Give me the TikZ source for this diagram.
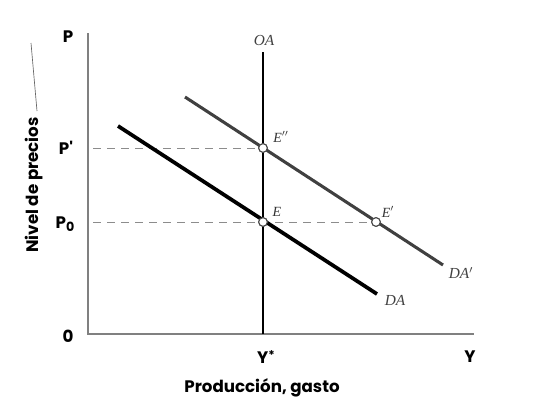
\documentclass[tikz,border=0pt]{standalone}
\usepackage{fontspec}
\setmainfont{Liberation Serif}
\newfontfamily\lblfont{Poppins}
\begin{document}
\begin{tikzpicture}[x=0.75pt,y=-0.75pt,
  axis/.style={draw=black!50,line width=1.1pt},
  oaline/.style={draw=black,line width=2.2pt},
  daline/.style={draw=black,line width=2.8pt},
  dapline/.style={draw=black!75,line width=2.3pt},
  guide/.style={draw=black!45,line width=0.7pt,dash pattern=on 6pt off 4.5pt},
  eqpt/.style={circle,draw=black!70,fill=white,line width=0.8pt,inner sep=0pt,minimum size=6.5pt},
  axlbl/.style={font=\lblfont\bfseries\fontsize{12.5}{14}\selectfont,inner sep=0pt},
  curvelbl/.style={font=\itshape\fontsize{11.5}{13}\selectfont,text=black!75,inner sep=0pt},
  ptlbl/.style={font=\itshape\fontsize{10.5}{12}\selectfont,text=black!80,inner sep=0pt}]
\useasboundingbox (0,0) rectangle (557,407);
% axes
\coordinate (origin) at (88,334);
\coordinate (ytop) at (88,33);
\coordinate (xend) at (474,334);
\draw[axis] (ytop) -- (origin) -- (xend);
% guide lines
\coordinate (pp0) at (93,148);
\coordinate (p00) at (93,222);
\node[eqpt] (Epp) at (263,148) {};
\node[eqpt] (E) at (263,222) {};
\node[eqpt] (Ep) at (376,222) {};
\draw[guide] (pp0) -- (Epp);
\draw[guide] (p00) -- (Ep);
% OA
\coordinate (oatop) at (263,52);
\coordinate (oabot) at (263,334);
\draw[oaline] (oatop) -- (oabot);
% DA and DA'
\coordinate (da1) at (118,126);
\coordinate (da2) at (377,294);
\coordinate (dap1) at (185,97);
\coordinate (dap2) at (443,265);
\draw[dapline] (dap1) -- (dap2);
\draw[daline] (da1) -- (da2);
% redraw points on top
\node[eqpt] at (Epp) {};
\node[eqpt] at (E) {};
\node[eqpt] at (Ep) {};
% labels
\node[axlbl] (lP) at (68,37) {P};
\node[axlbl] (lPp) at (66,148) {P'};
\node[axlbl] (lP0) at (65,224) {P\raisebox{-0.35ex}{\fontsize{9.5}{10}\selectfont 0}};
\node[axlbl] (l0) at (68,336) {0};
\node[axlbl] (lYs) at (266,357) {Y\raisebox{0.45ex}{\fontsize{9}{10}\selectfont *}};
\node[axlbl] (lY) at (470,357) {Y};
\node[axlbl] (lx) at (262,388) {Producción, gasto};
\node[axlbl,rotate=90] (ly) at (34,185) {Nivel de precios};
\coordinate (stray1) at (31,43);
\coordinate (stray2) at (37,111);
\draw[black!60,line width=0.5pt] (stray1) -- (stray2);
\node[curvelbl] (lOA) at (264,40) {OA};
\node[curvelbl] (lDA) at (395,300) {DA};
\node[curvelbl] (lDAp) at (461,273) {DA$'$};
\node[ptlbl] (lEpp) at (281,137) {E$''$};
\node[ptlbl] (lE) at (277,212) {E};
\node[ptlbl] (lEp) at (388,212) {E$'$};
\end{tikzpicture}
\end{document}
